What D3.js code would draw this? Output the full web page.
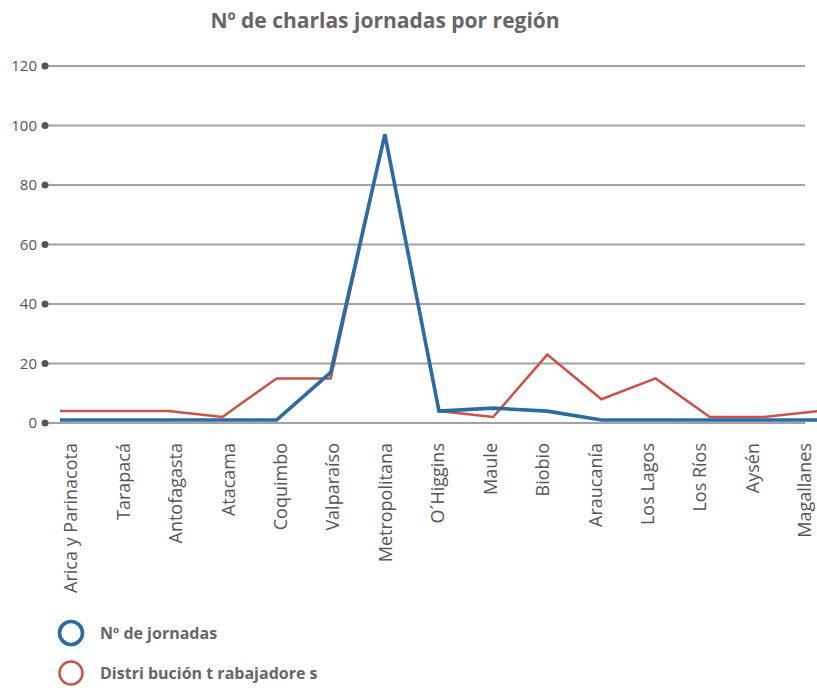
<!DOCTYPE html>
<html>
<head>
<meta charset="utf-8">
<script src="https://cdn.jsdelivr.net/npm/d3@7"></script>
<style>
  body { margin: 0; background: #fff; }
  svg { display: block; font-family: "Open Sans", "DejaVu Sans", sans-serif; }
</style>
</head>
<body>
<div id="chart"></div>
<script>
var regions = ["Arica y Parinacota", "Tarapacá", "Antofagasta", "Atacama", "Coquimbo",
    "Valparaíso", "Metropolitana", "O´Higgins", "Maule", "Biobio", "Araucanía",
    "Los Lagos", "Los Ríos", "Aysén", "Magallanes"];
var jornadas = [1, 1, 1, 1, 1, 17, 97, 4, 5, 4, 1, 1, 1, 1, 1];
var trabajadores = [4, 4, 4, 2, 15, 15, 97, 4, 2, 23, 8, 15, 2, 2, 4];
var yTicks = [0, 20, 40, 60, 80, 100, 120];
var series = [
    { name: "Distri bución t rabajadore s", values: trabajadores, color: "#cc5249", width: 2.5 },
    { name: "Nº de jornadas", values: jornadas, color: "#2b6ca3", width: 3.6 }
];

var width = 817, height = 688;

var svg = d3.select("#chart")
    .append("svg")
    .attr("width", width)
    .attr("height", height);

var x = d3.scalePoint().domain(regions).range([60, 818]);
var xLabel = d3.scalePoint().domain(regions).range([71, 805]);
var y = d3.scaleLinear().domain([0, 120]).range([423, 66]);

// title
svg.append("text")
    .attr("x", 385)
    .attr("y", 28)
    .attr("text-anchor", "middle")
    .style("font-size", "21px")
    .style("font-weight", "bold")
    .style("fill", "#666")
    .text("Nº de charlas jornadas por región");

// grid lines with dot ticks
var grid = svg.append("g");
grid.selectAll("line")
    .data(yTicks)
    .enter()
    .append("line")
    .attr("x1", 45)
    .attr("x2", 805)
    .attr("y1", function(d) { return y(d); })
    .attr("y2", function(d) { return y(d); })
    .style("stroke", "#a2a2a6")
    .style("stroke-width", 2);

grid.selectAll("circle")
    .data(yTicks)
    .enter()
    .append("circle")
    .attr("cx", 45)
    .attr("cy", function(d) { return y(d); })
    .attr("r", 3.5)
    .style("fill", "#555");

grid.selectAll("text")
    .data(yTicks)
    .enter()
    .append("text")
    .attr("x", 37)
    .attr("y", function(d) { return y(d); })
    .attr("dy", "0.35em")
    .attr("text-anchor", "end")
    .style("font-size", "15px")
    .style("fill", "#555")
    .text(function(d) { return d; });

// category labels
svg.append("g")
    .selectAll("text")
    .data(regions)
    .enter()
    .append("text")
    .attr("transform", function(d) {
        return "translate(" + xLabel(d) + ",443) rotate(-90)";
    })
    .attr("dy", "0.35em")
    .attr("text-anchor", "end")
    .style("font-size", "18px")
    .style("fill", "#555")
    .text(function(d) { return d; });

// lines
var line = d3.line()
    .x(function(d, i) { return x(regions[i]); })
    .y(function(d) { return y(d); });

svg.append("g")
    .selectAll("path")
    .data(series)
    .enter()
    .append("path")
    .attr("d", function(d) { return line(d.values); })
    .style("fill", "none")
    .style("stroke", function(d) { return d.color; })
    .style("stroke-width", function(d) { return d.width; })
    .style("stroke-linejoin", "miter");

// legend
var legend = svg.append("g")
    .selectAll("g")
    .data(series.slice().reverse())
    .enter()
    .append("g")
    .attr("transform", function(d, i) {
        return "translate(0," + (633 + i * 40) + ")";
    });

legend.append("circle")
    .attr("cx", 71)
    .attr("cy", 0)
    .attr("r", 11.5)
    .style("fill", "none")
    .style("stroke", function(d) { return d.color; })
    .style("stroke-width", function(d) { return d.width; });

legend.append("text")
    .attr("x", 100)
    .attr("y", 0)
    .attr("dy", "0.35em")
    .style("font-size", "16px")
    .style("font-weight", "bold")
    .style("fill", "#666")
    .text(function(d) { return d.name; });
</script>
</body>
</html>
